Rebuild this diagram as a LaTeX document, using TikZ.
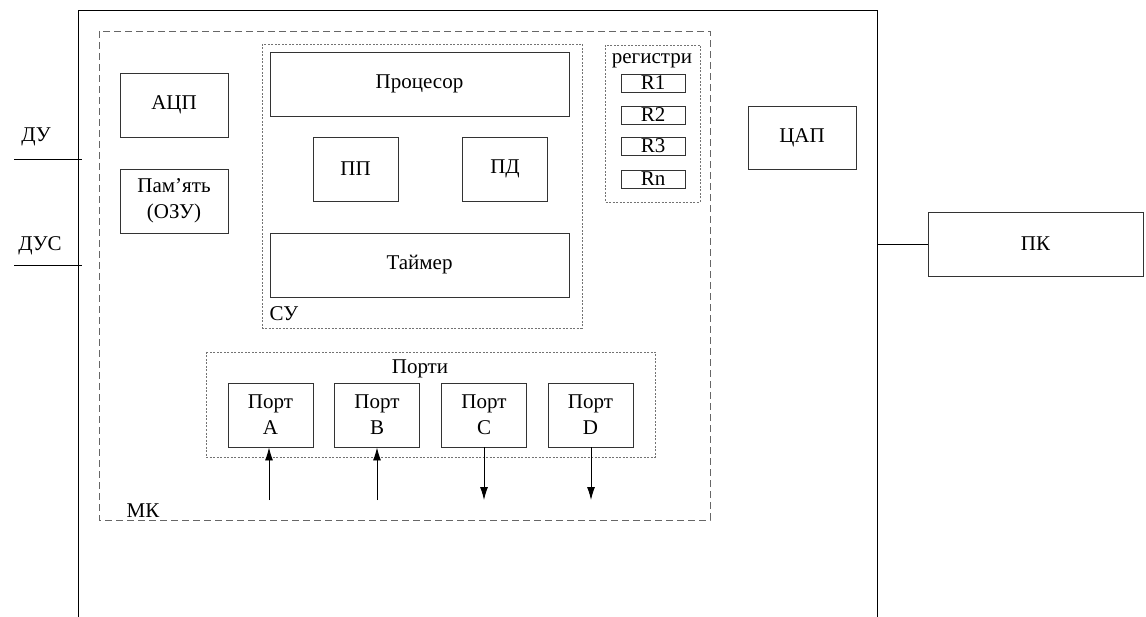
\documentclass[tikz,border=0pt]{standalone}
\usepackage{fontspec}
\setmainfont{Liberation Serif}
\usetikzlibrary{positioning,arrows.meta}

\begin{document}
\begin{tikzpicture}[x=1pt,y=-1pt,line width=0.9pt,
                    font=\fontsize{21}{26}\selectfont,
                    block/.style={draw=black!80,align=center,
                                  minimum width=108pt,minimum height=64pt},
                    wide/.style={block,minimum width=299pt},
                    small/.style={block,minimum width=85pt},
                    reg/.style={draw=black!80,line width=0.8pt,inner sep=0pt,
                                minimum width=64pt,minimum height=18pt},
                    frame/.style={draw=black!55,line width=0.7pt,
                                  dash pattern=on 2pt off 1.5pt},
                    mkframe/.style={draw=black!60,line width=0.8pt,
                                    dash pattern=on 7pt off 4pt},
                    signal/.style={-{Latex[length=13pt,width=8pt]}}]
  \useasboundingbox (0,0) rectangle (1146,617);
  % outer board
  \coordinate (bl) at (78,617);
  \coordinate (tl) at (78,10);
  \coordinate (tr) at (877,10);
  \coordinate (br) at (877,617);
  \draw (bl) -- (tl) -- (tr) -- (br);
  % sensor inputs
  \coordinate (du) at (14,159);
  \coordinate (dus) at (14,265);
  \draw (du) -- ++(68,0);
  \draw (dus) -- ++(68,0);
  \node (dulabel) at (36,137) {ДУ};
  \node (duslabel) at (40,246) {ДУС};
  % microcontroller
  \draw[mkframe] (99,31) rectangle (710,520);
  \node (mk) at (143,511) {МК};
  \node[block] (adc) at (174,105) {АЦП};
  \node[block] (mem) at (174,201) {Пам’ять\\(ОЗУ)};
  % control unit
  \draw[frame] (262,44) rectangle (582,328);
  \node (su) at (284,314) {СУ};
  \node[wide] (cpu) at (419.5,84) {Процесор};
  \node[small] (pp) at (355.5,169) {ПП};
  \node[small] (pd) at (505,169) {ПД};
  \node[wide] (timer) at (419.5,265) {Таймер};
  % registers
  \draw[frame] (605,45) rectangle (700,202);
  \node (regs) at (652,61) {регистри};
  \node[reg] (r1) at (653,83) {R1};
  \node[reg] (r2) at (653,115) {R2};
  \node[reg] (r3) at (653,146) {R3};
  \node[reg] (rn) at (653,179) {Rn};
  % ports
  \draw[frame] (206,352) rectangle (655,457);
  \node (ports) at (420,369) {Порти};
  \node[small] (pa) at (270.5,415) {Порт\\A};
  \node[small] (pb) at (377,415) {Порт\\B};
  \node[small] (pc) at (484,415) {Порт\\C};
  \node[small] (pdd) at (590.5,415) {Порт\\D};
  \coordinate (ina) at (269,500);
  \coordinate (inb) at (377,500);
  \coordinate (outc) at (484,500);
  \coordinate (outd) at (591,500);
  \draw[signal] (ina) -- (ina |- pa.south);
  \draw[signal] (inb) -- (inb |- pb.south);
  \draw[signal] (outc |- pc.south) -- (outc);
  \draw[signal] (outd |- pdd.south) -- (outd);
  % outside
  \node[block,minimum height=63pt] (dac) at (802,137.5) {ЦАП};
  \node[block,minimum width=215pt] (pk) at (1035.5,244) {ПК};
  \draw (pk.west) -- (pk.west -| br);
\end{tikzpicture}
\end{document}
